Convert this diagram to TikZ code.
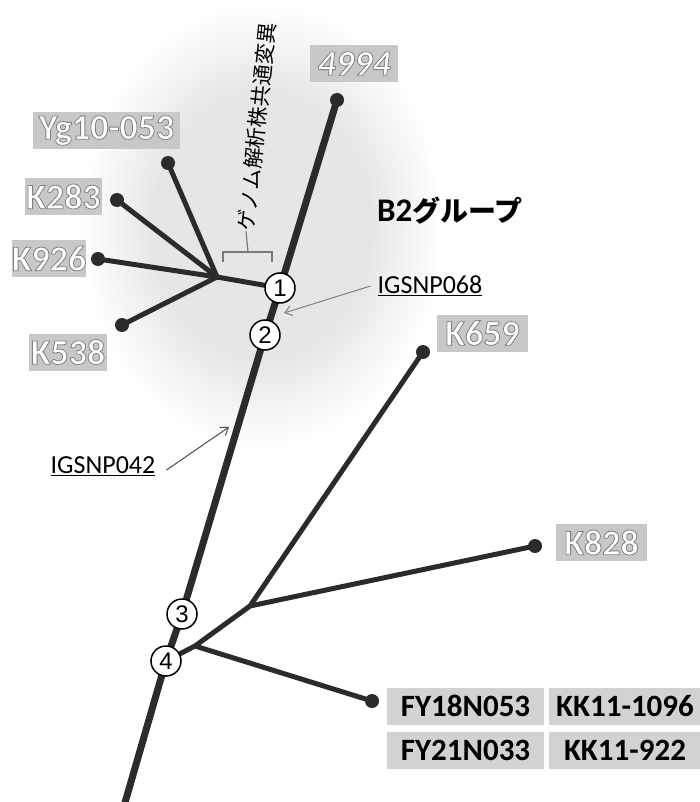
\documentclass[tikz,border=0pt]{standalone}
\usepackage{fontspec}
\setmainfont{Carlito}
\newfontfamily\jpfont{Noto Sans CJK JP}
\newfontfamily\numfont{Liberation Sans}
\usetikzlibrary{arrows.meta}

\definecolor{linec}{HTML}{2B2B2B}
\definecolor{boxgray}{HTML}{C8C8C8}
\definecolor{fygray}{HTML}{D2D2D2}
\definecolor{haloc}{HTML}{E6E6E6}
\definecolor{bracketc}{HTML}{7A7A7A}
\pgfdeclareradialshading{halo}{\pgfpoint{0bp}{0bp}}{%
  color(0bp)=(haloc); color(15bp)=(haloc); color(25bp)=(white); color(50bp)=(white)}

\newcommand{\fsz}[1]{\fontsize{#1}{#1}\selectfont}
% white glyphs with a thin grey rim (fill, then stroke)
\newcommand{\rimtext}[1]{\special{pdf:literal direct 2 Tr 0.8 w 0.5 G}#1\special{pdf:literal direct 0 Tr}}

\tikzset{
  trunk/.style={line width=7, draw=linec, line cap=round},
  twig/.style={line width=5, draw=linec, line cap=round},
  leaf/.style={circle, fill=linec, minimum size=14, inner sep=0pt},
  mut/.style={circle, draw=black, line width=1.5, fill=white, minimum size=30,
    inner sep=0pt, font=\numfont\fsz{24}},
  wlab/.style={fill=boxgray, inner sep=0pt, minimum height=37, text=white,
    font=\bfseries\fsz{36}},
  blab/.style={fill=fygray, inner sep=0pt, minimum height=37, text=black,
    font=\bfseries\fsz{31}},
  snp/.style={font=\fsz{26}, inner sep=1pt},
  pointer/.style={line width=1, -{Straight Barb[length=7,width=10]}},
}

\begin{document}
\begin{tikzpicture}[x=1pt, y=-1pt]
\useasboundingbox (0,0) rectangle (699,802);

% soft group halo
\shade[shading=halo] (262,225) ellipse [x radius=180, y radius=222];

% branch points
\coordinate (p1) at (280,288);
\coordinate (p2) at (265,335);
\coordinate (p3) at (182,614);
\coordinate (p4) at (166,661);
\coordinate (root) at (124,806);
\coordinate (ja) at (217,277);
\coordinate (jb) at (250,606);
\coordinate (jc) at (195,646);

% tips
\node[leaf] (t4994) at (337,100) {};
\node[leaf] (tyg) at (168,163) {};
\node[leaf] (t283) at (117,200) {};
\node[leaf] (t926) at (98,259) {};
\node[leaf] (t538) at (122,325) {};
\node[leaf] (t659) at (423,352) {};
\node[leaf] (t828) at (535,546) {};
\node[leaf] (tfy) at (372,701) {};

% edges
\draw[trunk] (t4994.center) -- (p1) -- (p2) -- (p3) -- (p4) -- (root);
\draw[twig] (p1) -- (ja);
\draw[twig] (ja) -- (tyg.center);
\draw[twig] (ja) -- (t283.center);
\draw[twig] (ja) -- (t926.center);
\draw[twig] (ja) -- (t538.center);
\draw[twig] (p4) -- (jc) -- (jb);
\draw[twig] (jb) -- (t659.center);
\draw[twig] (jb) -- (t828.center);
\draw[twig] (jc) -- (tfy.center);

% mutation markers
\node[mut] (m1) at (p1) {1};
\node[mut] (m2) at (p2) {2};
\node[mut] (m3) at (p3) {3};
\node[mut] (m4) at (p4) {4};

% strain labels
\node[wlab, minimum width=88, font=\bfseries\itshape\fsz{36}] (l4994) at (354,63.5) {\rimtext{4994}};
\node[wlab, minimum width=147] (lyg) at (106.5,130.5) {\rimtext{Yg10-053}};
\node[wlab, minimum width=77] (l283) at (63.5,196.5) {\rimtext{K283}};
\node[wlab, minimum width=74] (l926) at (49,258.5) {\rimtext{K926}};
\node[wlab, minimum width=78] (l538) at (68,352) {\rimtext{K538}};
\node[wlab, minimum width=91] (l659) at (482.5,333) {\rimtext{K659}};
\node[wlab, minimum width=91] (l828) at (601.5,542.5) {\rimtext{K828}};

\node[blab, minimum width=157] (lfy18) at (465.5,706) {FY18N053};
\node[blab, minimum width=152] (lkk1096) at (625,706) {KK11-1096};
\node[blab, minimum width=157] (lfy21) at (465.5,750.5) {FY21N033};
\node[blab, minimum width=152] (lkk922) at (625,750.5) {KK11-922};

% group name
\node[font=\bfseries\fsz{33}] (grp) at (450,211) {B2{\jpfont\fsz{28}グループ}};

% shared-mutation bracket with vertical caption
\node[rotate=84, font=\jpfont\fsz{21}, inner sep=0pt] (cap) at (257,127) {ゲノム解析株共通変異};
\coordinate (bl) at (223,262);
\coordinate (br) at (272,262);
\coordinate (bm) at (248,252);
\draw[bracketc, line width=1.2] (bl) -- (bl |- bm) -- (br |- bm) -- (br);
\draw[bracketc, line width=1.2] (bm) -- (cap.west);

% SNP pointers
\node[snp] (s068) at (430,286) {\underline{IGSNP068}};
\node[snp] (s042) at (103,466) {\underline{IGSNP042}};
\coordinate (a068) at (284,313);
\coordinate (a042) at (229,427);
\draw[pointer, draw=gray] ([xshift=-6]s068.west) -- (a068);
\draw[pointer, draw=black!70] ([xshift=10,yshift=-4]s042.east) -- (a042);
\end{tikzpicture}
\end{document}
